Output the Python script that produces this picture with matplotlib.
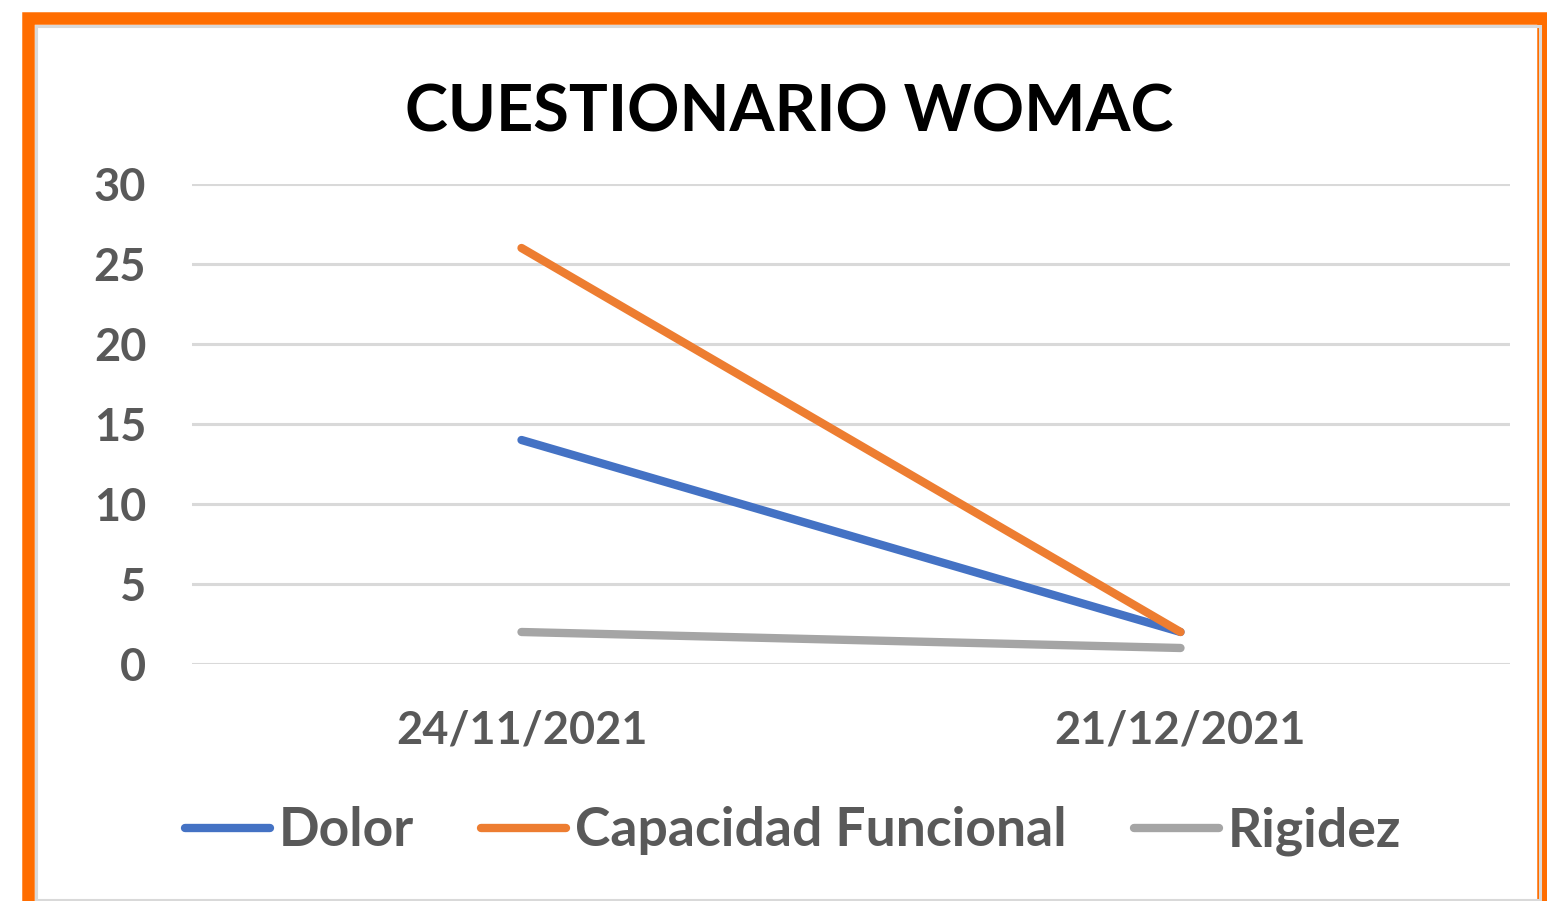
import matplotlib
matplotlib.use("Agg")
from matplotlib import pyplot as plt
from matplotlib.patches import Rectangle
from matplotlib.lines import Line2D

W, H = 1547, 901

# data
fechas = ["24/11/2021", "21/12/2021"]
dolor = [14, 2]
capacidad = [26, 2]
rigidez = [2, 1]
series_names = ["Dolor", "Capacidad Funcional", "Rigidez"]
colors = ["#4472C4", "#ED7D31", "#A5A5A5"]
y_ticks = [0, 5, 10, 15, 20, 25, 30]

TEXT_GRAY = "#595959"
plt.rcParams['font.family'] = ['Lato', 'DejaVu Sans']

fig = plt.figure(figsize=(W / 100, H / 100), dpi=100)
fig.patch.set_facecolor("white")

# frame: orange outer border and thin grey inner border
fig.patches.append(Rectangle((28 / W, -0.05), (1543 - 28) / W, (H - 18) / H + 0.05,
                             transform=fig.transFigure, fill=False,
                             edgecolor="#FF6D00", linewidth=9, zorder=0))
fig.patches.append(Rectangle((35.5 / W, 1.5 / H), (1539.5 - 35.5) / W, (H - 25.5 - 1.5) / H,
                             transform=fig.transFigure, fill=False,
                             edgecolor="#D9D9D9", linewidth=2.2, zorder=0))

ax = fig.add_axes([192 / W, (H - 664) / H, (1510 - 192) / W, (664 - 184) / H])
ax.set_xlim(-0.5, 1.5)
ax.set_ylim(0, 30)
ax.set_facecolor("none")

x = list(range(len(fechas)))
for vals, name, c in zip([dolor, capacidad, rigidez], series_names, colors):
    ax.plot(x, vals, color=c, linewidth=6, solid_capstyle="round", label=name,
            clip_on=False, zorder=3)

ax.set_yticks(y_ticks)
ax.set_xticks(x)
ax.set_xticklabels(fechas)
for s in ax.spines.values():
    s.set_visible(False)
ax.grid(axis="y", color="#D9D9D9", linewidth=2.2, zorder=0)
ax.set_axisbelow(True)
ax.tick_params(length=0)
ax.tick_params(axis="y", pad=33, labelsize=32.5, labelcolor=TEXT_GRAY)
ax.tick_params(axis="x", pad=33, labelsize=32.5, labelcolor=TEXT_GRAY)
for lbl in ax.get_xticklabels() + ax.get_yticklabels():
    lbl.set_fontweight("bold")

fig.text(789 / W, 1 - 113 / H, "CUESTIONARIO WOMAC", ha="center", va="center",
         fontsize=46.7, fontweight="bold", color="black")

handles = [Line2D([], [], color=c, linewidth=6, solid_capstyle="round") for c in colors]
leg = fig.legend(handles, series_names, loc="center", bbox_to_anchor=(793 / W, 1 - 831 / H),
                 ncol=3, frameon=False, fontsize=38.5, handlelength=1.59,
                 handletextpad=0.17, columnspacing=1.25)
for t in leg.get_texts():
    t.set_color(TEXT_GRAY)
    t.set_fontweight("bold")

fig.savefig("out.png", dpi=100)
